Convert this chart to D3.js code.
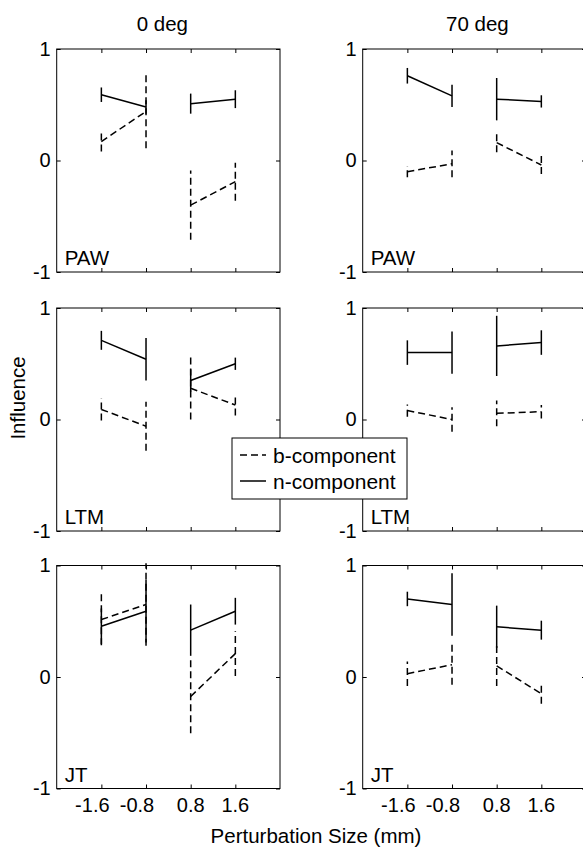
<!DOCTYPE html>
<html>
<head>
<meta charset="utf-8">
<script src="https://cdn.jsdelivr.net/npm/d3@7"></script>
<style>
  body { margin: 0; background: #fff; }
  svg { display: block; font-family: "Liberation Sans", Arial, Helvetica, sans-serif; }
</style>
</head>
<body>
<div id="chart"></div>
<script>
// sizes of perturbation (x categories)
const sizeLabels = ['-1.6', '-0.8', '0.8', '1.6'];
const columnTitles = ['0 deg', '70 deg'];
const rowNames = ['PAW', 'LTM', 'JT'];
const yTicks = [-1, 0, 1];

// panel order: PAW 0, PAW 70, LTM 0, LTM 70, JT 0, JT 70
const nMeans = [
  [0.59, 0.48, 0.51, 0.55],
  [0.76, 0.58, 0.55, 0.53],
  [0.71, 0.54, 0.35, 0.50],
  [0.60, 0.60, 0.66, 0.69],
  [0.455, 0.59, 0.42, 0.59],
  [0.70, 0.65, 0.45, 0.42]
];
const nErrs = [
  [0.065, 0.06, 0.09, 0.08],
  [0.07, 0.10, 0.19, 0.055],
  [0.085, 0.19, 0.10, 0.055],
  [0.11, 0.19, 0.27, 0.11],
  [0.16, 0.28, 0.23, 0.12],
  [0.065, 0.28, 0.19, 0.085]
];
const bMeans = [
  [0.17, 0.44, -0.40, -0.19],
  [-0.10, -0.03, 0.16, -0.04],
  [0.09, -0.06, 0.28, 0.13],
  [0.08, 0.00, 0.055, 0.07],
  [0.515, 0.65, -0.175, 0.21],
  [0.03, 0.11, 0.10, -0.15]
];
const bErrs = [
  [0.09, 0.33, 0.31, 0.17],
  [0.05, 0.12, 0.085, 0.08],
  [0.10, 0.22, 0.28, 0.095],
  [0.055, 0.11, 0.115, 0.06],
  [0.23, 0.37, 0.33, 0.2],
  [0.11, 0.18, 0.18, 0.09]
];

const W = 583, H = 850;
const panelW = 223.3, panelH = 223;
const colX = [56.7, 362.7];
const rowY = [49, 308, 565.5];
const titleShift = [-6, 3];
const DASH = '7,4';
const FS = 20.5;

const svg = d3.select('#chart').append('svg')
  .attr('width', W).attr('height', H);

const x = d3.scalePoint().domain(['', ...sizeLabels, ' ']).range([0, panelW]);
const y = d3.scaleLinear().domain([-1, 1]).range([panelH, 0]);

function drawSeries(g, means, errs, dashed) {
  const pts = means.map((m, i) => ({ k: sizeLabels[i], m, e: errs[i] }));
  const line = d3.line().x(d => x(d.k)).y(d => y(d.m));
  // two separate segments: negative and positive sizes
  [pts.slice(0, 2), pts.slice(2, 4)].forEach(seg => {
    g.append('path')
      .attr('d', line(seg))
      .attr('fill', 'none')
      .attr('stroke', '#000')
      .attr('stroke-width', 1.5)
      .attr('stroke-dasharray', dashed ? DASH : null);
  });
  g.selectAll(null).data(pts).enter().append('line')
    .attr('x1', d => x(d.k)).attr('x2', d => x(d.k))
    .attr('y1', d => y(d.m - d.e)).attr('y2', d => y(d.m + d.e))
    .attr('stroke', '#000')
    .attr('stroke-width', 1.5)
    .attr('stroke-dasharray', dashed ? DASH : null);
}

rowNames.forEach((name, r) => {
  columnTitles.forEach((title, c) => {
    const idx = r * 2 + c;
    const g = svg.append('g').attr('transform', `translate(${colX[c]},${rowY[r]})`);

    // inward ticks on all four sides
    g.append('g').call(d3.axisBottom(x).tickValues(sizeLabels).tickSize(-4).tickFormat(''))
      .attr('transform', `translate(0,${panelH})`);
    g.append('g').call(d3.axisTop(x).tickValues(sizeLabels).tickSize(-4).tickFormat(''));
    g.append('g').call(d3.axisLeft(y).tickValues(yTicks).tickSize(-4).tickPadding(6)
      .tickFormat(d => String(d)));
    g.append('g').call(d3.axisRight(y).tickValues(yTicks).tickSize(-4).tickFormat(''))
      .attr('transform', `translate(${panelW},0)`);
    g.selectAll('.domain').remove();
    g.selectAll('.tick line').attr('stroke', '#000');
    g.selectAll('.tick text').attr('font-size', 20).attr('fill', '#000')
      .attr('font-family', 'Liberation Sans, Arial, sans-serif');

    g.append('rect')
      .attr('width', panelW).attr('height', panelH)
      .attr('fill', 'none').attr('stroke', '#000').attr('stroke-width', 1);

    drawSeries(g, bMeans[idx], bErrs[idx], true);
    drawSeries(g, nMeans[idx], nErrs[idx], false);

    g.append('text')
      .attr('x', 8).attr('y', panelH - 7)
      .attr('font-size', FS)
      .text(name);

    if (r === 0) {
      g.append('text')
        .attr('x', panelW / 2 + titleShift[c]).attr('y', -18)
        .attr('text-anchor', 'middle')
        .attr('font-size', FS)
        .text(title);
    }
    if (r === rowNames.length - 1) {
      g.selectAll(null).data(sizeLabels).enter().append('text')
        .attr('x', d => x(d)).attr('y', panelH + 23)
        .attr('dx', d => d.startsWith('-') ? -9 : 0)
        .attr('text-anchor', 'middle')
        .attr('font-size', 20)
        .text(d => d);
    }
  });
});

// axis titles
svg.append('text')
  .attr('transform', 'translate(25,398) rotate(-90)')
  .attr('text-anchor', 'middle')
  .attr('font-size', FS)
  .text('Influence');
svg.append('text')
  .attr('x', 316).attr('y', 843)
  .attr('text-anchor', 'middle')
  .attr('font-size', FS)
  .text('Perturbation Size (mm)');

// legend
const legend = svg.append('g').attr('transform', 'translate(232,438)');
legend.append('rect')
  .attr('width', 175).attr('height', 61)
  .attr('fill', '#fff').attr('stroke', '#000').attr('stroke-width', 1);
const legendItems = [
  { label: 'b-component', dash: DASH },
  { label: 'n-component', dash: null }
];
legendItems.forEach((d, i) => {
  const cy = 17 + i * 26;
  legend.append('line')
    .attr('x1', 8).attr('x2', 34).attr('y1', cy).attr('y2', cy)
    .attr('stroke', '#000').attr('stroke-width', 1.5)
    .attr('stroke-dasharray', d.dash);
  legend.append('text')
    .attr('x', 41).attr('y', cy + 7.5)
    .attr('font-size', 21)
    .text(d.label);
});
</script>
</body>
</html>
